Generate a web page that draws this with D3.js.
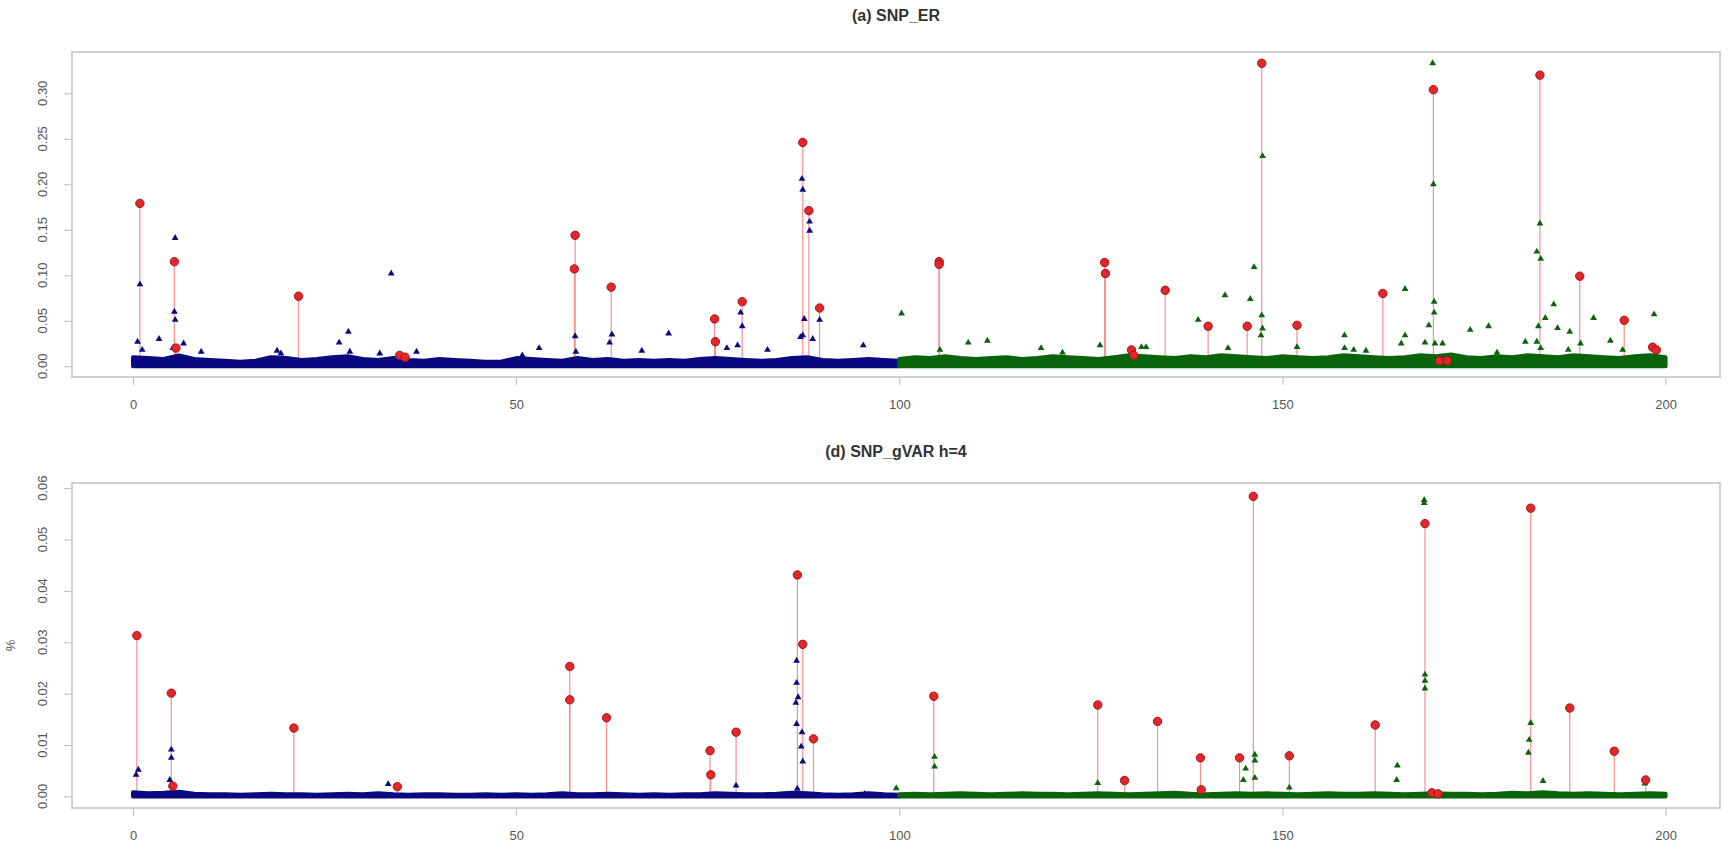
<!DOCTYPE html>
<html>
<head>
<meta charset="utf-8">
<script src="https://cdn.jsdelivr.net/npm/d3@7"></script>
<style>
  body { margin: 0; background: #fff; }
  svg { display: block; font-family: "Liberation Sans", Arial, sans-serif; }
</style>
</head>
<body>
<svg id="chart" width="1729" height="850"></svg>
<script>
// ---- data ----
const xTicks = [0, 50, 100, 150, 200];
const erTicks = [0, 0.05, 0.10, 0.15, 0.20, 0.25, 0.30];
const gvTicks = [0, 0.01, 0.02, 0.03, 0.04, 0.05, 0.06];

// positions of the dense background band (chromosome 1 blue, chromosome 2 green)
const bandXBlue = [0,2,4,6,8,10,12,14,16,18,20,22,24,26,28,30,32,34,36,38,40,42,44,46,48,50,
  52,54,56,58,60,62,64,66,68,70,72,74,76,78,80,82,84,86,88,90,92,94,96,98,100];
const bandXGreen = [100,102,104,106,108,110,112,114,116,118,120,122,124,126,128,130,132,134,136,138,140,142,144,146,148,150,
  152,154,156,158,160,162,164,166,168,170,172,174,176,178,180,182,184,186,188,190,192,194,196,198,200];

const erBandBlue = [0.010,0.009,0.008,0.012,0.008,0.007,0.006,0.005,0.006,0.010,
  0.009,0.007,0.008,0.010,0.011,0.008,0.007,0.009,0.007,0.006,
  0.008,0.007,0.006,0.005,0.005,0.009,0.008,0.007,0.006,0.009,
  0.007,0.008,0.006,0.007,0.006,0.007,0.006,0.008,0.009,0.008,
  0.007,0.006,0.007,0.009,0.010,0.007,0.006,0.007,0.008,0.007,0.006];
const erBandGreen = [0.008,0.010,0.009,0.011,0.009,0.008,0.009,0.010,0.008,0.009,
  0.011,0.010,0.009,0.008,0.010,0.012,0.011,0.010,0.009,0.011,
  0.010,0.012,0.011,0.010,0.009,0.011,0.010,0.009,0.010,0.012,
  0.011,0.010,0.009,0.010,0.012,0.011,0.013,0.010,0.009,0.011,
  0.010,0.012,0.011,0.010,0.012,0.011,0.010,0.009,0.011,0.012,0.010];
const gvBandBlue = [0.0008,0.0006,0.0007,0.0009,0.0005,0.0004,0.0004,0.0003,0.0004,0.0005,
  0.0004,0.0004,0.0003,0.0004,0.0005,0.0004,0.0006,0.0004,0.0003,0.0004,
  0.0004,0.0003,0.0003,0.0004,0.0003,0.0004,0.0003,0.0004,0.0006,0.0004,
  0.0004,0.0005,0.0004,0.0003,0.0004,0.0003,0.0004,0.0004,0.0006,0.0005,
  0.0004,0.0004,0.0005,0.0007,0.0006,0.0004,0.0003,0.0004,0.0006,0.0004,0.0003];
const gvBandGreen = [0.0004,0.0005,0.0004,0.0005,0.0006,0.0005,0.0004,0.0005,0.0006,0.0005,
  0.0005,0.0004,0.0005,0.0006,0.0005,0.0004,0.0005,0.0006,0.0007,0.0005,
  0.0004,0.0005,0.0006,0.0005,0.0006,0.0005,0.0004,0.0005,0.0006,0.0005,
  0.0005,0.0006,0.0005,0.0004,0.0005,0.0006,0.0005,0.0005,0.0004,0.0005,
  0.0007,0.0006,0.0008,0.0006,0.0005,0.0006,0.0005,0.0004,0.0005,0.0006,0.0005];

// (a) SNP_ER : [position, value]
const erBlue = [[0.9,0.090],[0.6,0.027],[1.2,0.018],[3.4,0.030],[5.5,0.141],[5.4,0.060],[5.5,0.051],
  [6.6,0.025],[5.2,0.020],[8.9,0.016],[18.8,0.017],[19.3,0.014],[26.9,0.026],[28.1,0.038],[28.3,0.016],
  [32.2,0.014],[33.7,0.102],[37.0,0.016],[50.8,0.012],[53.0,0.020],[57.7,0.033],[57.8,0.016],
  [62.5,0.035],[62.2,0.026],[66.4,0.017],[69.9,0.036],[77.5,0.020],[78.9,0.023],[79.3,0.059],
  [79.5,0.044],[82.8,0.018],[87.3,0.206],[87.4,0.194],[88.3,0.159],[88.3,0.149],[87.6,0.052],
  [87.1,0.032],[87.4,0.034],[88.7,0.030],[89.6,0.051],[95.3,0.023]];
const erGreen = [[100.3,0.058],[105.3,0.018],[109.0,0.026],[111.5,0.028],[118.5,0.020],[121.3,0.015],
  [126.2,0.023],[131.6,0.021],[132.2,0.021],[139.0,0.051],[142.5,0.078],[142.9,0.020],[145.8,0.074],
  [146.3,0.109],[147.4,0.231],[147.3,0.056],[147.4,0.0415],[147.2,0.034],[151.9,0.021],[158.1,0.034],
  [158.1,0.020],[159.3,0.018],[160.9,0.017],[166.0,0.085],[166.0,0.034],[165.5,0.025],[168.6,0.026],
  [169.6,0.333],[169.7,0.200],[169.8,0.071],[169.8,0.059],[169.1,0.045],[169.9,0.025],[170.9,0.025],
  [174.5,0.040],[176.9,0.044],[178.0,0.015],[183.2,0.126],[183.7,0.118],[183.6,0.157],[183.4,0.044],
  [181.7,0.027],[183.2,0.027],[183.7,0.020],[184.3,0.053],[185.4,0.068],[185.9,0.042],[187.5,0.038],
  [188.9,0.025],[187.3,0.018],[190.6,0.053],[192.8,0.028],[194.4,0.018],[198.5,0.057]];
const erRed = [[0.9,0.179],[5.4,0.115],[5.6,0.020],[21.6,0.077],[34.8,0.012],[35.5,0.010],[57.7,0.144],
  [57.6,0.107],[62.4,0.087],[75.9,0.052],[76.0,0.027],[79.5,0.071],[87.4,0.246],[88.2,0.171],[89.6,0.064],
  [105.2,0.115],[105.2,0.112],[126.8,0.114],[126.9,0.102],[130.3,0.018],[130.6,0.012],[134.7,0.0835],
  [140.3,0.044],[145.4,0.044],[147.3,0.333],[151.9,0.045],[163.1,0.080],[169.7,0.304],[170.5,0.006],
  [171.5,0.006],[183.6,0.320],[188.8,0.099],[194.6,0.0505],[198.3,0.021],[198.8,0.018]];

// (d) SNP_gVAR h=4
const gvBlue = [[0.4,0.0042],[0.7,0.0052],[5.0,0.0091],[5.0,0.0075],[4.8,0.0032],[33.3,0.0024],
  [78.7,0.0021],[86.6,0.0264],[86.6,0.0221],[86.8,0.0193],[86.5,0.0182],[86.6,0.0141],[87.3,0.0125],
  [87.2,0.0097],[87.4,0.0068],[86.7,0.0015],[95.5,0.0005]];
const gvGreen = [[99.6,0.0016],[104.6,0.0077],[104.6,0.0058],[125.9,0.0026],[139.3,0.0013],[145.2,0.0054],
  [144.9,0.0032],[146.4,0.0081],[146.4,0.0070],[146.4,0.0036],[150.9,0.0017],[165.0,0.0060],[164.9,0.0032],
  [168.5,0.0577],[168.5,0.0571],[168.6,0.0237],[168.6,0.0225],[168.6,0.0210],[182.4,0.0143],[182.2,0.0110],
  [182.1,0.0085],[184.0,0.0030],[197.3,0.0025]];
const gvRed = [[0.5,0.0313],[5.0,0.0201],[5.2,0.0020],[21.0,0.0133],[34.5,0.0019],[57.0,0.0253],[57.0,0.0188],
  [61.8,0.0153],[75.3,0.0089],[75.4,0.0042],[78.7,0.0125],[86.7,0.0431],[87.4,0.0296],[88.8,0.0112],
  [104.5,0.0195],[125.9,0.0178],[129.4,0.0031],[133.7,0.0146],[139.3,0.0075],[139.4,0.0013],[144.4,0.0075],
  [146.2,0.0584],[150.9,0.0079],[162.1,0.0139],[168.6,0.0531],[169.5,0.0007],[170.3,0.0005],[182.4,0.0561],
  [187.5,0.0172],[193.3,0.0088],[197.4,0.0032]];

const BLUE = "#0a0a80", GREEN = "#0b640b", RED = "#e3262a";

const svg = d3.select("#chart");
const x = d3.scaleLinear().domain([-7.96, 207.1]).range([72, 1720]);

const panels = [
  { title: "(a) SNP_ER", titleY: 21, top: 52, bottom: 377, yDomain: [-0.0118, 0.3454], yTicks: erTicks,
    bandBlue: erBandBlue, bandGreen: erBandGreen, blue: erBlue, green: erGreen, red: erRed, ylab: null },
  { title: "(d) SNP_gVAR h=4", titleY: 457, top: 483, bottom: 808, yDomain: [-0.00226, 0.0610], yTicks: gvTicks,
    bandBlue: gvBandBlue, bandGreen: gvBandGreen, blue: gvBlue, green: gvGreen, red: gvRed, ylab: "%" }
];

panels.forEach(drawPanel);

function drawPanel(p) {
  const y = d3.scaleLinear().domain(p.yDomain).range([p.bottom, p.top]);
  const g = svg.append("g");

  // title
  g.append("text")
    .attr("x", (x.range()[0] + x.range()[1]) / 2)
    .attr("y", p.titleY)
    .attr("text-anchor", "middle")
    .attr("font-size", "16px")
    .attr("font-weight", "bold")
    .attr("fill", "#333")
    .text(p.title);

  // x axis
  const xa = g.append("g")
    .attr("transform", `translate(0,${p.bottom})`)
    .call(d3.axisBottom(x).tickValues(xTicks).tickSize(8).tickPadding(15).tickFormat(d3.format("d")));
  xa.select(".domain").remove();
  xa.selectAll("line").attr("stroke", "#bbb");
  xa.selectAll("text").attr("font-size", "13px").attr("fill", "#555").attr("font-family", "Liberation Sans, Arial, sans-serif");

  // y axis ticks, labels rotated like R
  const ya = g.append("g")
    .attr("transform", `translate(${x.range()[0]},0)`)
    .call(d3.axisLeft(y).tickValues(p.yTicks).tickSize(8).tickFormat(""));
  ya.select(".domain").remove();
  ya.selectAll("line").attr("stroke", "#bbb");

  g.selectAll(".ylab")
    .data(p.yTicks)
    .enter().append("text")
    .attr("transform", d => `translate(47,${y(d)}) rotate(-90)`)
    .attr("text-anchor", "middle")
    .attr("font-size", "13px")
    .attr("fill", "#555")
    .text(d3.format(".2f"));

  if (p.ylab) {
    g.append("text")
      .attr("transform", `translate(15,${(p.top + p.bottom) / 2}) rotate(-90)`)
      .attr("text-anchor", "middle")
      .attr("font-size", "13px")
      .attr("fill", "#555")
      .text(p.ylab);
  }

  // red stems from the baseline
  g.selectAll(".stem")
    .data(p.red)
    .enter().append("line")
    .attr("x1", d => x(d[0])).attr("x2", d => x(d[0]))
    .attr("y1", y(0)).attr("y2", d => y(d[1]))
    .attr("stroke", "#f49090")
    .attr("stroke-width", 1.2);

  // dense background band
  const area = d3.area()
    .x(d => x(d[0]))
    .y0(y(0))
    .y1(d => y(d[1]));
  const bands = [
    { pts: bandXBlue.map((v, i) => [v, p.bandBlue[i]]), color: BLUE },
    { pts: bandXGreen.map((v, i) => [v, p.bandGreen[i]]), color: GREEN }
  ];
  bands.forEach(b => {
    g.append("path")
      .datum(b.pts)
      .attr("d", area)
      .attr("fill", b.color)
      .attr("stroke", b.color)
      .attr("stroke-width", 4)
      .attr("stroke-linejoin", "round");
  });

  // blue and green SNP points
  const tri = d3.symbol(d3.symbolTriangle, 20);
  [[p.blue, BLUE], [p.green, GREEN]].forEach(([pts, color]) => {
    g.selectAll(null)
      .data(pts)
      .enter().append("path")
      .attr("d", tri)
      .attr("transform", d => `translate(${x(d[0])},${y(d[1])})`)
      .attr("fill", color);
  });

  // highlighted points
  g.selectAll(".hit")
    .data(p.red)
    .enter().append("circle")
    .attr("cx", d => x(d[0]))
    .attr("cy", d => y(d[1]))
    .attr("r", 4.2)
    .attr("fill", RED)
    .attr("stroke", "#a3161a")
    .attr("stroke-width", 1);

  // plot box
  g.append("rect")
    .attr("x", x.range()[0])
    .attr("y", p.top)
    .attr("width", x.range()[1] - x.range()[0])
    .attr("height", p.bottom - p.top)
    .attr("fill", "none")
    .attr("stroke", "#cfcfcf")
    .attr("stroke-width", 2);
}
</script>
</body>
</html>
